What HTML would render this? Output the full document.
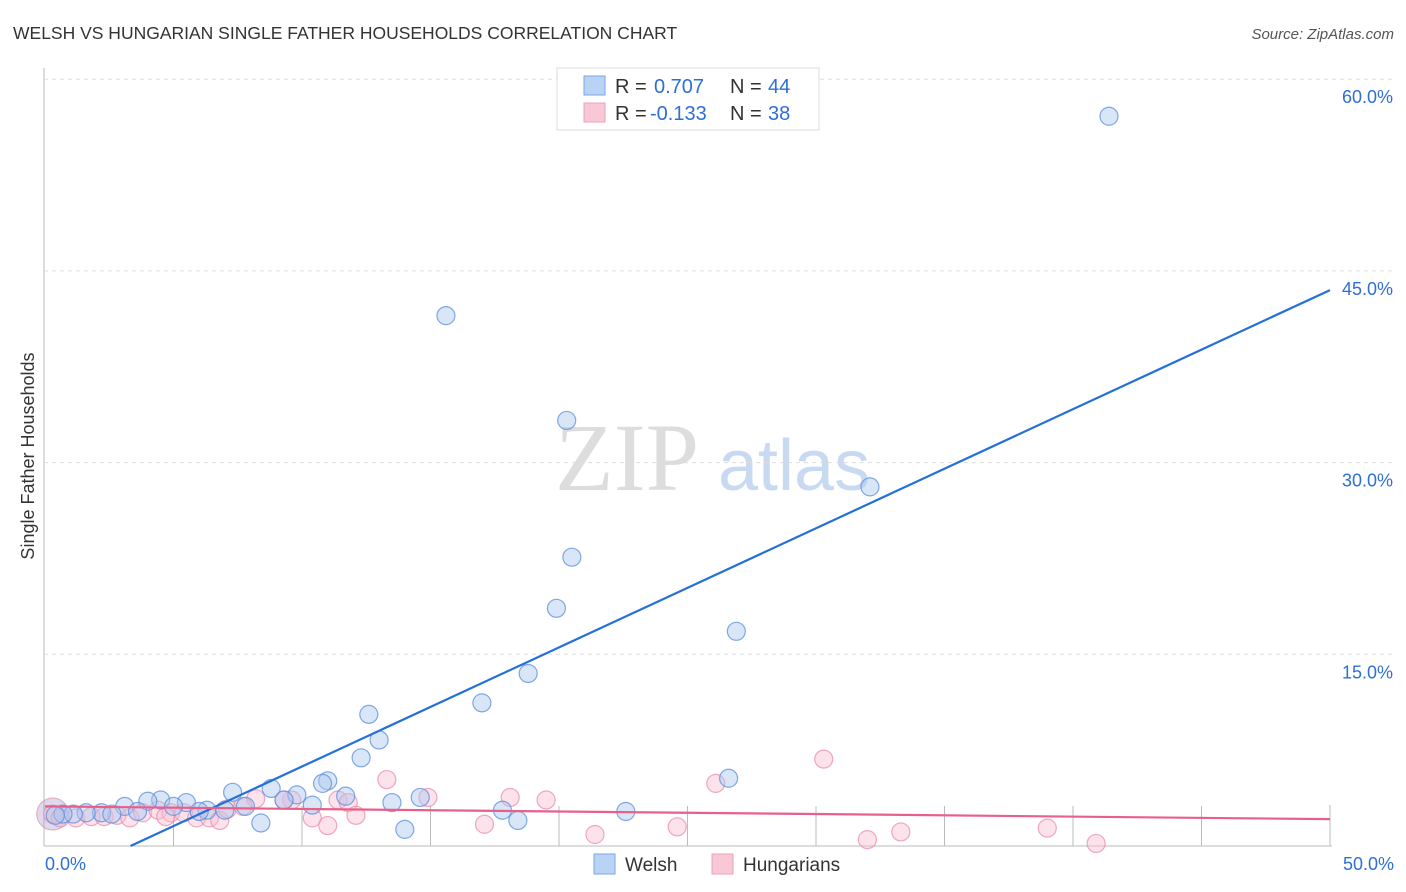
<!DOCTYPE html>
<html><head><meta charset="utf-8"><style>
body{margin:0;background:#fff;font-family:"Liberation Sans",sans-serif;}
#wrap{position:relative;width:1406px;height:892px;overflow:hidden;}
</style></head><body>
<div id="wrap">
<svg id="svg" width="1406" height="892" xmlns="http://www.w3.org/2000/svg">
<text x="13" y="39" font-size="17.5" fill="#333">WELSH VS HUNGARIAN SINGLE FATHER HOUSEHOLDS CORRELATION CHART</text>
<text x="1394" y="39" font-size="15" fill="#555" font-style="italic" text-anchor="end">Source: ZipAtlas.com</text>
<text x="34" y="456" font-size="18" fill="#333" text-anchor="middle" transform="rotate(-90 34 456)">Single Father Households</text>
<text x="555" y="490" font-size="96" fill="#ddd" font-family="Liberation Serif,serif">ZIP</text>
<text x="718" y="490" font-size="72" fill="#c8daf2">atlas</text>
<g id="grid"></g><g id="pts"></g><g id="lines"></g>
<rect x="557" y="68" width="262" height="62" fill="#fff" stroke="#ddd"/>
<rect x="584" y="76" width="21" height="19" fill="#b9d3f5" stroke="#7aa6e6"/>
<rect x="584" y="103" width="21" height="19" fill="#f8c8d6" stroke="#eda1b8"/>
<text font-size="20" fill="#333"><tspan x="615" y="93">R = </tspan><tspan x="654" fill="#2e6fd6">0.707</tspan><tspan x="730">N = </tspan><tspan x="768" fill="#2e6fd6">44</tspan></text>
<text font-size="20" fill="#333"><tspan x="615" y="120">R = </tspan><tspan x="650" fill="#2e6fd6">-0.133</tspan><tspan x="730">N = </tspan><tspan x="768" fill="#2e6fd6">38</tspan></text>
<rect x="594" y="854" width="21" height="20" fill="#b9d3f5" stroke="#7aa6e6"/>
<text x="625" y="871" font-size="19" fill="#333">Welsh</text>
<rect x="712" y="854" width="21" height="20" fill="#f8c8d6" stroke="#eda1b8"/>
<text x="743" y="871" font-size="19" fill="#333">Hungarians</text>
</svg></div>
<script>
const yTicks=[15,30,45,60];
const yTickLabels=["15.0%","30.0%","45.0%","60.0%"];
const xEndLabels=["0.0%","50.0%"];
const welshX=[41.4,15.6,20.3,32.1,20.5,19.9,26.9,18.8,17.0,12.6,13.0,12.3,11.0,10.8,11.7,9.8,8.8,9.3,7.3,7.8,10.4,13.5,14.6,17.8,18.4,22.6,26.6,14.0,8.4,4.5,5.5,4.0,3.1,3.6,5.0,6.3,7.0,2.2,1.6,1.1,0.7,0.4,6.0,2.6];
const welshY=[57.1,41.5,33.3,28.1,22.6,18.6,16.8,13.5,11.2,10.3,8.3,6.9,5.1,4.9,3.9,4.0,4.5,3.6,4.2,3.1,3.2,3.4,3.8,2.8,2.0,2.7,5.3,1.3,1.8,3.6,3.4,3.5,3.1,2.7,3.1,2.8,2.8,2.6,2.6,2.5,2.5,2.4,2.7,2.5];
const hungX=[0.3,0.6,1.2,1.8,2.3,2.8,3.3,3.8,4.4,4.9,5.4,5.9,6.4,6.8,7.1,8.2,9.6,10.4,11.0,11.4,11.8,12.1,13.3,14.9,17.1,18.1,19.5,21.4,24.6,26.1,30.3,32.0,33.3,39.0,40.9,9.3,7.7,4.7];
const hungY=[2.5,2.2,2.2,2.3,2.3,2.4,2.2,2.6,2.8,2.6,2.6,2.2,2.2,2.0,2.9,3.7,3.6,2.2,1.6,3.6,3.4,2.4,5.2,3.8,1.7,3.8,3.6,0.9,1.5,4.9,6.8,0.5,1.1,1.4,0.2,3.6,3.1,2.3];
const trendWelsh=[-3.1,43.5];
const trendHung=[3.1,2.1];
const X=v=>45+v*25.7, Y=v=>846-v*12.78;
const NS="http://www.w3.org/2000/svg";
function mk(tag,attrs,parent,txt){const e=document.createElementNS(NS,tag);for(const k in attrs)e.setAttribute(k,attrs[k]);if(txt!==undefined)e.textContent=txt;document.getElementById(parent).appendChild(e);return e;}
const g='grid';
let ax=mk('line',{x1:44,y1:68,x2:44,y2:846,stroke:'#bbb'},g);


let bx=mk('line',{x1:44,y1:846,x2:1332,y2:846,stroke:'#bbb'},g);


yTicks.forEach((t,i)=>{
 let l=mk('line',{x1:44,y1:Y(t),x2:1394,y2:Y(t),stroke:'#ddd','stroke-dasharray':'4 4'},g);
 
 
 let tx=mk('text',{x:1393,y:Y(t)+24,'font-size':18,fill:'#2e6fd6','text-anchor':'end'},g,yTickLabels[i]);
 
 
});
for(let i=1;i<=10;i++){
 let l=mk('line',{x1:X(i*5),y1:i==10?805:806,x2:X(i*5),y2:846,stroke:'#bbb'},g);
 
 
}
let xl0=mk('text',{x:45,y:870,'font-size':18,fill:'#2e6fd6'},g,xEndLabels[0]);


let xl1=mk('text',{x:1394,y:870,'font-size':18,fill:'#2e6fd6','text-anchor':'end'},g,xEndLabels[1]);


let big=mk('circle',{cx:X(0.3),cy:Y(2.5),r:16,fill:'rgba(160,150,200,0.35)',stroke:'rgba(220,140,170,0.7)'},'pts');


hungX.forEach((x,i)=>{
 let c=mk('circle',{cx:X(x),cy:Y(hungY[i]),r:9,fill:'rgba(248,190,210,0.45)',stroke:'rgba(235,140,170,0.75)','stroke-width':1.2},'pts');
 
 
});
welshX.forEach((x,i)=>{
 let c=mk('circle',{cx:X(x),cy:Y(welshY[i]),r:9,fill:'rgba(170,200,240,0.45)',stroke:'rgba(90,140,220,0.75)','stroke-width':1.2},'pts');
 
 
});
let x0=(0-trendWelsh[0])/((trendWelsh[1]-trendWelsh[0])/50);
let tw=mk('line',{x1:X(x0),y1:Y(0),x2:X(50),y2:Y(trendWelsh[1]),stroke:'#2470d8','stroke-width':2.2},'lines');


let th=mk('line',{x1:X(0),y1:Y(trendHung[0]),x2:X(50),y2:Y(trendHung[1]),stroke:'#e8608a','stroke-width':2.2},'lines');


</script>
</body></html>
